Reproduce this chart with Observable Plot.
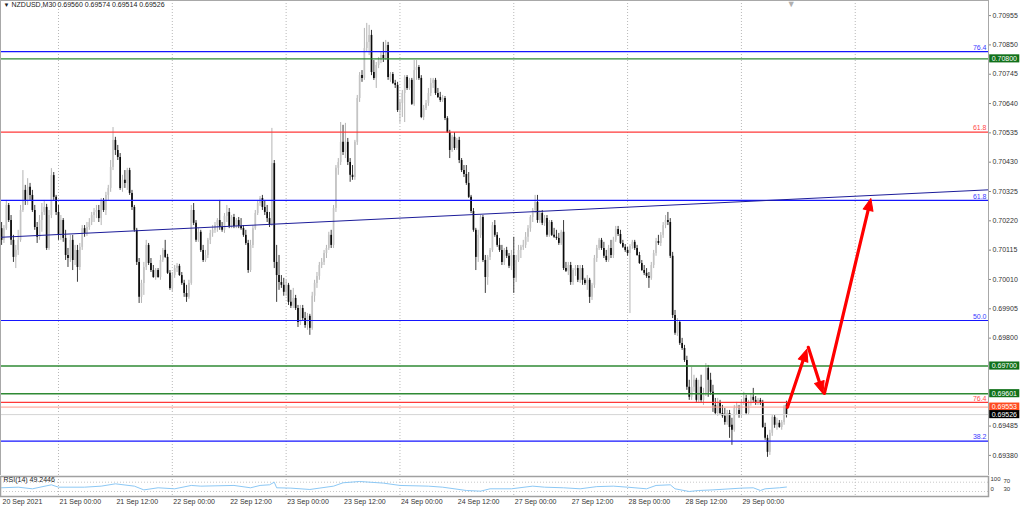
<!DOCTYPE html>
<html><head><meta charset="utf-8">
<script src="https://cdn.jsdelivr.net/npm/d3@7"></script>
<script src="https://cdn.jsdelivr.net/npm/@observablehq/plot@0.6"></script>
<style>
html,body{margin:0;padding:0;background:#fff;}
#chart{width:1024px;height:509px;overflow:hidden;}
#chart svg{display:block;}
</style></head><body><div id="chart"></div>
<script>
// ---------- data (prices in points: price * 100000) ----------
const symbolName = "NZDUSD,M30";
const lastOHLC = ["0.69560","0.69574","0.69514","0.69526"];
const O = [70192,70150,70192,70275,70221,70150,70089,70114,70150,70257,70329,70293,70340,70311,70257,70196,70161,70221,70250,70268,70121,70239,70382,70304,70250,70168,70221,70157,70096,70085,70150,70078,70114,70053,70125,70192,70175,70196,70214,70239,70250,70257,70228,70293,70257,70311,70336,70411,70508,70472,70447,70336,70365,70354,70400,70318,70268,70186,70071,69946,69996,70053,70132,70067,70042,70017,70042,70017,70078,70114,70089,70032,69978,70024,70049,70057,70024,69996,69960,69946,69996,70257,70211,70150,70179,70114,70078,70096,70150,70175,70186,70203,70221,70196,70186,70236,70250,70200,70232,70200,70221,70200,70192,70168,70139,70042,70132,70192,70246,70282,70300,70268,70250,70228,70207,70425,70071,70024,69999,69989,69964,69989,69928,69914,69942,69906,69856,69906,69870,69845,69878,69835,69950,69996,70021,70060,70071,70103,70121,70168,70132,70264,70408,70429,70501,70465,70501,70429,70383,70375,70501,70658,70740,70730,70837,70859,70884,70751,70730,70776,70794,70812,70801,70848,70723,70744,70712,70705,70615,70640,70676,70733,70694,70723,70637,70758,70769,70730,70590,70622,70640,70676,70712,70723,70676,70662,70651,70658,70586,70536,70472,70519,70479,70508,70436,70400,70386,70354,70304,70253,70186,70089,70168,70232,70078,70017,70089,70114,70203,70168,70132,70114,70071,70114,70093,70057,70096,70014,70078,70114,70125,70132,70161,70192,70232,70257,70286,70221,70246,70211,70228,70168,70214,70168,70161,70157,70139,70179,70049,70039,70060,69999,70042,70049,70007,70049,70007,69996,70007,69946,69989,70085,70121,70150,70121,70093,70078,70121,70096,70150,70189,70171,70139,70125,70114,70103,70128,70143,70121,70096,70067,70042,70032,70021,70014,70060,70103,70146,70139,70168,70203,70221,70214,70093,69881,69817,69856,69781,69763,69720,69624,69588,69624,69649,69577,69624,69577,69602,69691,69649,69606,69559,69530,69566,69530,69520,69498,69530,69488,69470,69548,69541,69523,69566,69584,69530,69566,69588,69577,69566,69577,69566,69480,69441,69391,69459,69516,69488,69495,69480,69498,69560];
const H = [70214,70203,70293,70282,70239,70168,70132,70186,70275,70400,70347,70371,70354,70329,70275,70214,70239,70282,70293,70279,70257,70407,70393,70311,70275,70239,70228,70186,70121,70168,70168,70132,70132,70139,70203,70203,70214,70228,70250,70264,70275,70275,70300,70300,70322,70347,70436,70554,70519,70490,70461,70383,70400,70408,70408,70329,70275,70193,70085,70007,70071,70150,70139,70085,70060,70049,70049,70096,70121,70150,70100,70042,70035,70060,70067,70064,70035,70007,69989,70007,70275,70282,70221,70193,70186,70132,70114,70157,70186,70203,70214,70228,70293,70214,70246,70275,70264,70239,70243,70228,70232,70228,70203,70186,70150,70150,70203,70257,70293,70307,70311,70293,70275,70250,70551,70436,70132,70096,70024,70014,70007,69996,69971,69978,69953,69917,69917,69917,69892,69888,69885,69964,70007,70035,70071,70085,70114,70132,70179,70186,70275,70418,70443,70572,70562,70569,70515,70443,70418,70508,70669,70751,70758,70909,70927,70920,70902,70794,70787,70805,70823,70859,70866,70859,70751,70751,70723,70716,70651,70687,70740,70740,70730,70730,70794,70794,70776,70740,70633,70651,70694,70730,70730,70730,70694,70680,70669,70665,70593,70544,70526,70536,70515,70519,70443,70418,70418,70393,70311,70264,70193,70186,70239,70239,70096,70096,70121,70214,70221,70178,70157,70132,70121,70125,70103,70114,70161,70096,70132,70132,70150,70178,70203,70239,70264,70311,70311,70257,70257,70239,70239,70221,70221,70193,70186,70175,70186,70221,70071,70071,70071,70049,70060,70060,70060,70060,70014,70024,70014,69996,70096,70132,70157,70157,70143,70114,70132,70150,70161,70200,70200,70186,70150,70135,70125,70135,70150,70150,70132,70107,70078,70060,70049,70035,70071,70114,70157,70168,70178,70214,70239,70250,70228,70107,69899,69870,69863,69799,69774,69735,69649,69695,69667,69656,69649,69667,69620,69709,69702,69674,69631,69584,69584,69577,69559,69548,69541,69541,69513,69559,69570,69559,69577,69606,69595,69577,69602,69620,69591,69584,69584,69577,69495,69452,69470,69523,69523,69513,69505,69505,69559,69574];
const L = [70132,70139,70186,70214,70132,70071,70049,70096,70143,70250,70275,70275,70293,70250,70186,70139,70150,70179,70239,70114,70114,70228,70293,70239,70150,70150,70143,70078,70053,70071,70042,70060,70000,70042,70114,70161,70164,70186,70203,70214,70228,70214,70203,70250,70239,70293,70322,70400,70454,70436,70329,70322,70336,70329,70311,70257,70179,70060,69924,69924,69953,70042,70060,70035,70014,70007,70014,70007,70071,70085,70028,69971,69964,70014,70035,70021,69989,69946,69928,69939,69989,70203,70143,70143,70107,70071,70071,70085,70135,70161,70175,70179,70186,70179,70175,70214,70192,70192,70192,70192,70192,70186,70161,70132,70032,70035,70121,70186,70239,70272,70257,70239,70214,70196,70200,70049,69928,69971,69978,69950,69950,69917,69906,69906,69899,69838,69845,69863,69835,69828,69810,69828,69928,69978,70007,70049,70060,70085,70114,70121,70121,70250,70383,70418,70454,70443,70418,70358,70365,70365,70490,70644,70716,70723,70823,70812,70740,70723,70694,70765,70783,70787,70794,70723,70716,70708,70694,70608,70569,70590,70572,70687,70687,70633,70630,70723,70723,70586,70579,70615,70630,70665,70694,70669,70658,70644,70644,70579,70533,70443,70465,70472,70472,70425,70393,70375,70347,70300,70246,70179,70042,70071,70157,70071,69960,69989,70078,70107,70161,70125,70107,70060,70060,70085,70049,70042,69960,69999,70071,70085,70114,70121,70143,70179,70214,70246,70211,70211,70203,70200,70161,70161,70164,70157,70150,70132,70132,70042,70035,70024,69989,69989,70021,69999,69996,69989,69989,69971,69924,69935,69978,70071,70114,70114,70085,70071,70071,70085,70085,70143,70164,70135,70121,70107,70093,69888,70118,70114,70093,70064,70039,70024,70014,69978,70007,70049,70093,70132,70128,70157,70192,70203,70085,69870,69810,69806,69774,69756,69713,69613,69577,69577,69606,69570,69566,69570,69559,69591,69588,69595,69534,69523,69520,69523,69513,69488,69488,69441,69416,69463,69523,69513,69516,69559,69523,69523,69556,69570,69559,69559,69559,69477,69434,69373,69380,69448,69477,69470,69477,69470,69488,69514];
const C = [70150,70192,70275,70221,70150,70089,70114,70150,70257,70329,70293,70340,70311,70257,70196,70161,70221,70250,70268,70121,70239,70382,70304,70250,70168,70221,70157,70096,70085,70150,70078,70114,70053,70125,70192,70175,70196,70214,70239,70250,70257,70228,70293,70257,70311,70336,70411,70508,70472,70447,70336,70365,70354,70400,70318,70268,70186,70071,69946,69996,70053,70132,70067,70042,70017,70042,70017,70078,70114,70089,70032,69978,70024,70049,70057,70024,69996,69960,69946,69996,70257,70211,70150,70179,70114,70078,70096,70150,70175,70186,70203,70221,70196,70186,70236,70250,70200,70232,70200,70221,70200,70192,70168,70139,70042,70132,70192,70246,70282,70300,70268,70250,70228,70207,70425,70071,70024,69999,69989,69964,69989,69928,69914,69942,69906,69856,69906,69870,69845,69878,69835,69950,69996,70021,70060,70071,70103,70121,70168,70132,70264,70408,70429,70501,70465,70501,70429,70383,70375,70501,70658,70740,70730,70837,70859,70884,70751,70730,70776,70794,70812,70801,70848,70733,70744,70712,70705,70615,70640,70676,70733,70694,70723,70637,70758,70769,70730,70590,70622,70640,70676,70712,70723,70676,70662,70651,70658,70586,70536,70472,70519,70479,70508,70436,70400,70386,70354,70304,70253,70186,70089,70168,70232,70078,70017,70089,70114,70203,70168,70132,70114,70071,70114,70093,70057,70096,70014,70078,70114,70125,70132,70161,70192,70232,70257,70286,70221,70246,70211,70228,70168,70214,70168,70161,70157,70139,70179,70049,70039,70060,69999,70042,70049,70007,70049,70007,69996,70007,69946,69989,70085,70121,70150,70121,70093,70078,70121,70096,70150,70189,70171,70139,70125,70114,70103,70128,70143,70121,70096,70067,70042,70032,70021,70014,70060,70103,70146,70139,70168,70203,70221,70214,70093,69881,69817,69856,69781,69763,69720,69624,69588,69624,69649,69577,69624,69577,69602,69691,69649,69606,69559,69530,69566,69530,69520,69498,69530,69480,69470,69548,69559,69523,69566,69584,69530,69566,69588,69577,69566,69577,69566,69480,69441,69391,69459,69516,69488,69495,69480,69498,69552,69526];

const priceTicks = [0.70955,0.70850,0.70745,0.70640,0.70535,0.70430,0.70325,0.70220,0.70115,0.70010,0.69905,0.69800,0.69485,0.69380];
const timeIdx = [0,24,48,72,96,120,144,168,192,216,240,264,288,312];
const timeLabels = ["20 Sep 2021","21 Sep 00:00","21 Sep 12:00","22 Sep 00:00","22 Sep 12:00","23 Sep 00:00","23 Sep 12:00","24 Sep 00:00","24 Sep 12:00","27 Sep 00:00","27 Sep 12:00","28 Sep 00:00","28 Sep 12:00","29 Sep 00:00"];
const gridIdx = [24,72,120,168,216,264,312,360];

const blueFibPrice = [0.70826,0.70293,0.69863,0.69431];
const blueFibLabel = ["76.4","61.8","50.0","38.2"];
const redFibPrice = [0.70538,0.69570];
const redFibLabel = ["61.8","76.4"];
const greenLevels = [0.70800,0.69700,0.69601];
const askPrice = 0.69553;
const bidPrice = 0.69526;
const trendIdx = [-0.455,416.2];
const trendPrice = [0.70161,0.70331];
const arrowFromIdx = [331.4,340.2,347.0];
const arrowFromPrice = [0.69552,0.69767,0.69602];
const arrowToIdx = [339.6,346.4,366.6];
const arrowToPrice = [0.69760,0.69602,0.70300];

const rsiIdx = [0,7,13,21,24,35,42,48,56,60,66,73,80,84,98,105,109,113,115,116,122,130,140,144,151,161,168,180,186,196,202,206,215,224,229,237,244,251,258,264,272,276,282,284,290,294,300,312,317,320,322,328,331];
const rsiVal = [46,48.6,41.6,58.8,48.6,48.6,53,63,53,37,46,41.6,56,53,56,46,56,58.8,70,46,44.5,38.7,53,67.4,73,66,56,53,48.6,34.4,31.5,41.6,41.6,53,48.6,46,41.6,51,53,48.6,41.6,56,58.8,41.6,30,34.4,37,44.5,46,34.4,41.6,46,49.24];
const rsiLast = "49.2446";
const rsiScaleLabels = ["100","70","30","0"];

// ---------- build ----------
const bars = O.map((o,i)=>({i, o:o/1e5, h:H[i]/1e5, l:L[i]/1e5, c:C[i]/1e5}));
const upBars = bars.filter(d=>d.c>=d.o);
const dnBars = bars.filter(d=>d.c<d.o);
const boxes = [
  ...greenLevels.map(p=>({p, fill:"#11711a"})),
  {p:askPrice, fill:"#ff4b1f"},
  {p:bidPrice, fill:"#000000"}
];

const FONT = "'Liberation Sans', Arial, sans-serif";
const W = 1024, MR = 36, MH = 475;
const xDom = [-0.455, 416.2];
const yDom = [0.69308, 0.71009];
const kx = (W - MR) / (xDom[1] - xDom[0]);   // px per bar
const ky = MH / (yDom[1] - yDom[0]);          // px per price unit
const arrows = arrowFromIdx.map((x,k)=>{
  const x2 = arrowToIdx[k], y1 = arrowFromPrice[k], y2 = arrowToPrice[k];
  const px = (x2 - x) * kx, py = -(y2 - y1) * ky;
  return {x1:x, y1, x2, y2, angle: Math.atan2(px, -py) * 180 / Math.PI};
});
const trend = trendIdx.map((x,k)=>({x, y:trendPrice[k]}));
const rsi = rsiIdx.map((x,k)=>({x, v:rsiVal[k]}));
const headShape = {
  draw(ctx, l) {
    const w = l * 0.42;
    ctx.moveTo(0, -l);
    ctx.lineTo(-w, 0);
    ctx.lineTo(w, 0);
    ctx.closePath();
  }
};
const boxX1 = 416.7, boxX2 = 429.4, boxHalf = 0.000145;

const main = Plot.plot({
  width: W, height: MH,
  marginLeft: 0, marginRight: MR, marginTop: 0, marginBottom: 0,
  style: {fontFamily: FONT, fontSize: "7px", background: "#fff", color: "#333"},
  x: {domain: xDom, axis: null},
  y: {domain: yDom, axis: null},
  marks: [
    Plot.ruleX(gridIdx, {x: d=>d, stroke: "#b8b8b8", strokeDasharray: "1,2"}),
    // candles
    Plot.ruleX(upBars, {x: "i", y1: "l", y2: "h", stroke: "#b4b4b4", strokeWidth: 1}),
    Plot.ruleX(dnBars, {x: "i", y1: "l", y2: "h", stroke: "#3a3a3a", strokeWidth: 1}),
    Plot.ruleX(upBars, {x: "i", y1: "o", y2: "c", stroke: "#c4c4c4", strokeWidth: 1.7}),
    Plot.ruleX(dnBars, {x: "i", y1: "o", y2: "c", stroke: "#0a0a0a", strokeWidth: 1.7}),
    // levels
    Plot.ruleY([bidPrice], {y: d=>d, stroke: "#d4d4d4", strokeWidth: 1}),
    Plot.ruleY([askPrice], {y: d=>d, stroke: "#ff9a8a", strokeWidth: 1}),
    Plot.ruleY(greenLevels, {y: d=>d, stroke: "#2f8a34", strokeWidth: 1.4}),
    Plot.ruleY(redFibPrice, {y: d=>d, stroke: "#ff3838", strokeWidth: 1.2}),
    Plot.ruleY(blueFibPrice, {y: d=>d, stroke: "#1515ff", strokeWidth: 1.2}),
    Plot.line(trend, {x: "x", y: "y", stroke: "#1c1c9a", strokeWidth: 1}),
    Plot.text(blueFibPrice, {y: d=>d, text: (d,k)=>blueFibLabel[k], frameAnchor: "right", textAnchor: "end", dx: -2, dy: -4, fill: "#3b3bff", fontSize: 7}),
    Plot.text(redFibPrice, {y: d=>d, text: (d,k)=>redFibLabel[k], frameAnchor: "right", textAnchor: "end", dx: -2, dy: -4, fill: "#ff4a4a", fontSize: 7}),
    // arrows: shaft + filled head
    Plot.arrow(arrows, {x1: "x1", y1: "y1", x2: "x2", y2: "y2", stroke: "#ff0000", strokeWidth: 3.2, headLength: 0, insetEnd: 8}),
    Plot.vector(arrows, {x: "x2", y: "y2", rotate: "angle", length: 12, anchor: "end", shape: headShape, fill: "#ff0000", stroke: "#ff0000", strokeWidth: 1}),
    // frame and price axis
    Plot.frame({stroke: "#a8a8a8", strokeWidth: 1}),
    Plot.axisY({anchor: "right", ticks: priceTicks, tickFormat: d=>d.toFixed(5), tickSize: 2, tickPadding: 2, fontSize: 7, stroke: "#888"}),
    Plot.rect(boxes, {x1: boxX1, x2: boxX2, y1: d=>d.p - boxHalf, y2: d=>d.p + boxHalf, fill: d=>d.fill}),
    Plot.text(boxes, {x: boxX1, y: "p", text: d=>d.p.toFixed(5), textAnchor: "start", dx: 2, fill: "#fff", fontSize: 7}),
    // header and shift marker
    Plot.text(["▼"], {frameAnchor: "top-left", dx: 3, dy: 2, textAnchor: "start", lineAnchor: "top", fontSize: 6, fill: "#222"}),
    Plot.text([symbolName], {frameAnchor: "top-left", dx: 11, dy: 2, textAnchor: "start", lineAnchor: "top", fontSize: 7, fill: "#222"}),
    Plot.text([lastOHLC.join(" ")], {frameAnchor: "top-left", dx: 57, dy: 2, textAnchor: "start", lineAnchor: "top", fontSize: 7, fill: "#222"}),
    Plot.text(["▼"], {x: [333], frameAnchor: "top", dy: 0, lineAnchor: "top", fontSize: 9, fill: "#b0b0b0"})
  ]
});

const labelMap = new Map(timeIdx.map((d,k)=>[d, timeLabels[k]]));
const rsiPlot = Plot.plot({
  width: W, height: 34,
  marginLeft: 0, marginRight: MR, marginTop: 1, marginBottom: 13,
  style: {fontFamily: FONT, fontSize: "7px", background: "#fff", color: "#333"},
  x: {domain: xDom},
  y: {domain: [0, 100], range: [23, -0.3], axis: null},
  marks: [
    Plot.ruleX(gridIdx, {x: d=>d, y1: 0, y2: 100, stroke: "#b8b8b8", strokeDasharray: "1,2", clip: true}),
    Plot.ruleY([30, 70], {y: d=>d, stroke: "#c8c8c8", strokeDasharray: "1,2"}),
    Plot.line(rsi, {x: "x", y: "v", stroke: "#8cc8f5", strokeWidth: 1, clip: true}),
    Plot.frame({stroke: "#a0a0a0", strokeWidth: 1.5}),
    Plot.text([`RSI(14) ${rsiLast}`], {frameAnchor: "top-left", dx: 3, dy: 1, textAnchor: "start", lineAnchor: "top", fontSize: 7, fill: "#222"}),
    Plot.text([rsiScaleLabels[0]], {frameAnchor: "top-right", dx: 2, dy: 0, textAnchor: "start", lineAnchor: "top", fontSize: 6, fill: "#333"}),
    Plot.text([rsiScaleLabels[1]], {frameAnchor: "top-right", dx: 15, dy: 2, textAnchor: "start", lineAnchor: "top", fontSize: 6, fill: "#333"}),
    Plot.text([rsiScaleLabels[2]], {frameAnchor: "top-right", dx: 15, dy: 10, textAnchor: "start", lineAnchor: "top", fontSize: 6, fill: "#333"}),
    Plot.text([rsiScaleLabels[3]], {frameAnchor: "top-right", dx: 2, dy: 10, textAnchor: "start", lineAnchor: "top", fontSize: 6, fill: "#333"}),
    Plot.axisX({ticks: timeIdx, tickFormat: d=>labelMap.get(d), tickSize: 0, tickPadding: 3, textAnchor: "start", dx: 1, fontSize: 7, label: null})
  ]
});

const root = document.getElementById("chart");
root.appendChild(main);
root.appendChild(rsiPlot);
</script>
</body></html>
